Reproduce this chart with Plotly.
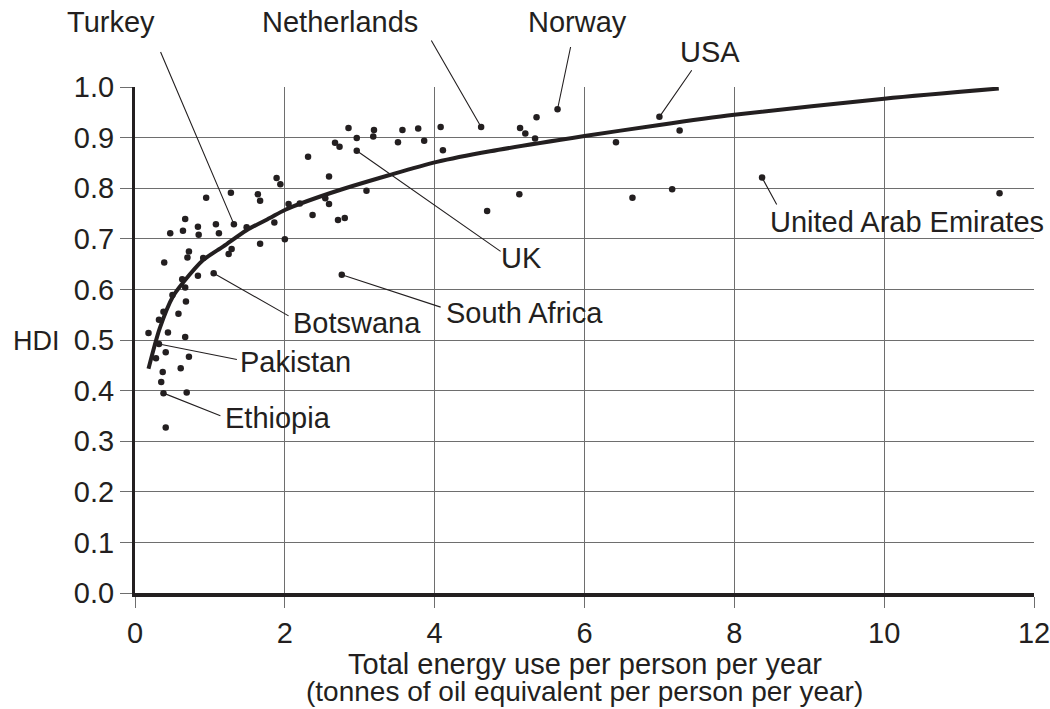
import plotly.graph_objects as go

# Energy use per person (tonnes of oil equivalent) and HDI, one entry per country
energy = [0.41, 0.38, 0.69, 0.35, 0.37, 0.61, 0.28, 0.72, 0.41, 0.32,
          0.67, 0.18, 0.44, 0.32, 0.58, 0.38, 0.68, 0.50, 0.67, 0.63,
          0.84, 1.05, 0.39, 0.91, 0.70, 1.25, 0.72, 1.29, 1.67, 2.00,
          1.12, 0.47, 0.85, 0.64, 0.84, 1.49, 1.08, 1.32, 1.86, 0.67,
          2.71, 2.80, 2.37, 4.70, 2.05, 2.20, 2.59, 1.67, 2.54, 0.95,
          6.64, 1.64, 5.13, 1.28, 11.54, 3.09, 7.17, 1.94, 1.89, 8.37,
          2.59, 2.31, 2.96, 4.11, 2.73, 2.67, 3.51, 6.42, 3.86, 5.34,
          2.96, 3.18, 5.21, 7.27, 3.19, 3.57, 3.78, 2.85, 5.14, 4.08,
          4.62, 5.36, 7.00, 5.64, 2.76]
hdi = [0.327, 0.395, 0.396, 0.417, 0.437, 0.444, 0.464, 0.467, 0.476, 0.492,
       0.506, 0.514, 0.515, 0.540, 0.552, 0.556, 0.576, 0.589, 0.604, 0.620,
       0.627, 0.632, 0.653, 0.662, 0.663, 0.670, 0.675, 0.680, 0.690, 0.699,
       0.711, 0.711, 0.708, 0.716, 0.724, 0.723, 0.729, 0.729, 0.732, 0.739,
       0.737, 0.741, 0.747, 0.755, 0.769, 0.770, 0.769, 0.775, 0.780, 0.781,
       0.781, 0.788, 0.788, 0.791, 0.790, 0.795, 0.798, 0.808, 0.820, 0.821,
       0.823, 0.862, 0.874, 0.875, 0.882, 0.890, 0.891, 0.891, 0.894, 0.898,
       0.899, 0.902, 0.908, 0.914, 0.915, 0.915, 0.918, 0.919, 0.919, 0.921,
       0.921, 0.940, 0.941, 0.956, 0.629]

# Trend curve
trend_x = [0.18, 0.33, 0.51, 0.65, 0.91, 1.18, 1.49, 1.80, 2.0, 2.6,
           3.4, 4.03, 4.74, 6.0, 7.0, 8.0, 10.0, 11.53]
trend_y = [0.443, 0.523, 0.587, 0.615, 0.658, 0.685, 0.717, 0.741, 0.757, 0.790,
           0.826, 0.852, 0.873, 0.903, 0.925, 0.945, 0.977, 0.997]

# Named countries: name, point index, leader tail (data units),
# label position (pixels), label anchor
named = [
    ("Turkey", 37, (0.33, 1.073), (111, 22), "center"),
    ("Netherlands", 80, (3.94, 1.096), (340, 22), "center"),
    ("Norway", 83, (5.82, 1.083), (577, 22), "center"),
    ("USA", 82, (7.45, 1.037), (710, 52), "center"),
    ("United Arab Emirates", 59, (8.58, 0.764), (768, 222), "left"),
    ("UK", 62, (4.90, 0.673), (499, 258), "left"),
    ("South Africa", 84, (4.10, 0.564), (444, 313), "left"),
    ("Botswana", 21, (2.07, 0.546), (291, 323), "left"),
    ("Pakistan", 9, (1.38, 0.461), (238, 362), "left"),
    ("Ethiopia", 1, (1.16, 0.349), (223, 418), "left"),
]

x_ticks = [0, 2, 4, 6, 8, 10, 12]
y_ticks = [0.0, 0.1, 0.2, 0.3, 0.4, 0.5, 0.6, 0.7, 0.8, 0.9, 1.0]

W, H = 1050, 709
ML, MR, MT, MB = 135, 16, 87, 116
INK = "#231f20"
FONT = "Liberation Sans, Arial, Helvetica, sans-serif"
FS = 29


def paper(px, py):
    return (px - ML) / (W - ML - MR), (H - MB - py) / (H - MT - MB)


fig = go.Figure()
fig.add_trace(go.Scatter(
    x=trend_x, y=trend_y, mode="lines",
    line=dict(color=INK, width=4, shape="spline", smoothing=0.8),
    hoverinfo="skip", showlegend=False,
))
fig.add_trace(go.Scatter(
    x=energy, y=hdi, mode="markers",
    marker=dict(color=INK, size=6.5),
    cliponaxis=False, showlegend=False,
))

annotations = []
for name, idx, tail, pos, anchor in named:
    annotations.append(dict(
        x=energy[idx], y=hdi[idx], xref="x", yref="y",
        ax=tail[0], ay=tail[1], axref="x", ayref="y",
        text=" ", font=dict(size=1),
        showarrow=True, arrowhead=0, arrowwidth=1.1, arrowcolor=INK, standoff=0,
    ))
    xp, yp = paper(*pos)
    annotations.append(dict(
        x=xp, y=yp, xref="paper", yref="paper", text=name, showarrow=False,
        xanchor=anchor, yanchor="middle", font=dict(size=FS, color=INK, family=FONT),
    ))

xp, yp = paper(62, 341)
annotations.append(dict(x=xp, y=yp, xref="paper", yref="paper", text="HDI",
                        showarrow=False, xanchor="right", yanchor="middle",
                        font=dict(size=FS - 2, color=INK, family=FONT)))
xp, yp = paper(584.5, 664)
annotations.append(dict(x=xp, y=yp, xref="paper", yref="paper",
                        text="Total energy use per person per year",
                        showarrow=False, xanchor="center", yanchor="middle",
                        font=dict(size=FS, color=INK, family=FONT)))
xp, yp = paper(584.5, 691)
annotations.append(dict(x=xp, y=yp, xref="paper", yref="paper",
                        text="(tonnes of oil equivalent per person per year)",
                        showarrow=False, xanchor="center", yanchor="middle",
                        font=dict(size=FS - 1, color=INK, family=FONT)))

fig.update_layout(
    width=W, height=H,
    margin=dict(l=ML, r=MR, t=MT, b=MB, autoexpand=False),
    paper_bgcolor="white", plot_bgcolor="white",
    font=dict(family=FONT, size=FS, color=INK),
    annotations=annotations,
    showlegend=False,
)
fig.update_xaxes(
    range=[0, 12], tickvals=x_ticks, ticktext=[str(v) for v in x_ticks],
    automargin=False, ticklabeloverflow="allow",
    showgrid=True, gridcolor="#6e6e6e", gridwidth=1.2,
    showline=True, linecolor=INK, linewidth=4,
    ticks="outside", ticklen=11, tickcolor="#6e6e6e", tickwidth=1.2,
    zeroline=False, tickfont=dict(size=FS, color=INK, family=FONT),
)
fig.update_yaxes(
    range=[0, 1.0], tickvals=y_ticks, ticktext=[f"{v:.1f}" for v in y_ticks],
    automargin=False, ticklabeloverflow="allow",
    showgrid=True, gridcolor="#6e6e6e", gridwidth=1.2,
    showline=True, linecolor=INK, linewidth=3,
    ticks="outside", ticklen=12, tickcolor="#6e6e6e", tickwidth=1.2,
    zeroline=False, tickfont=dict(size=FS, color=INK, family=FONT),
)

fig.write_html("out.html")
